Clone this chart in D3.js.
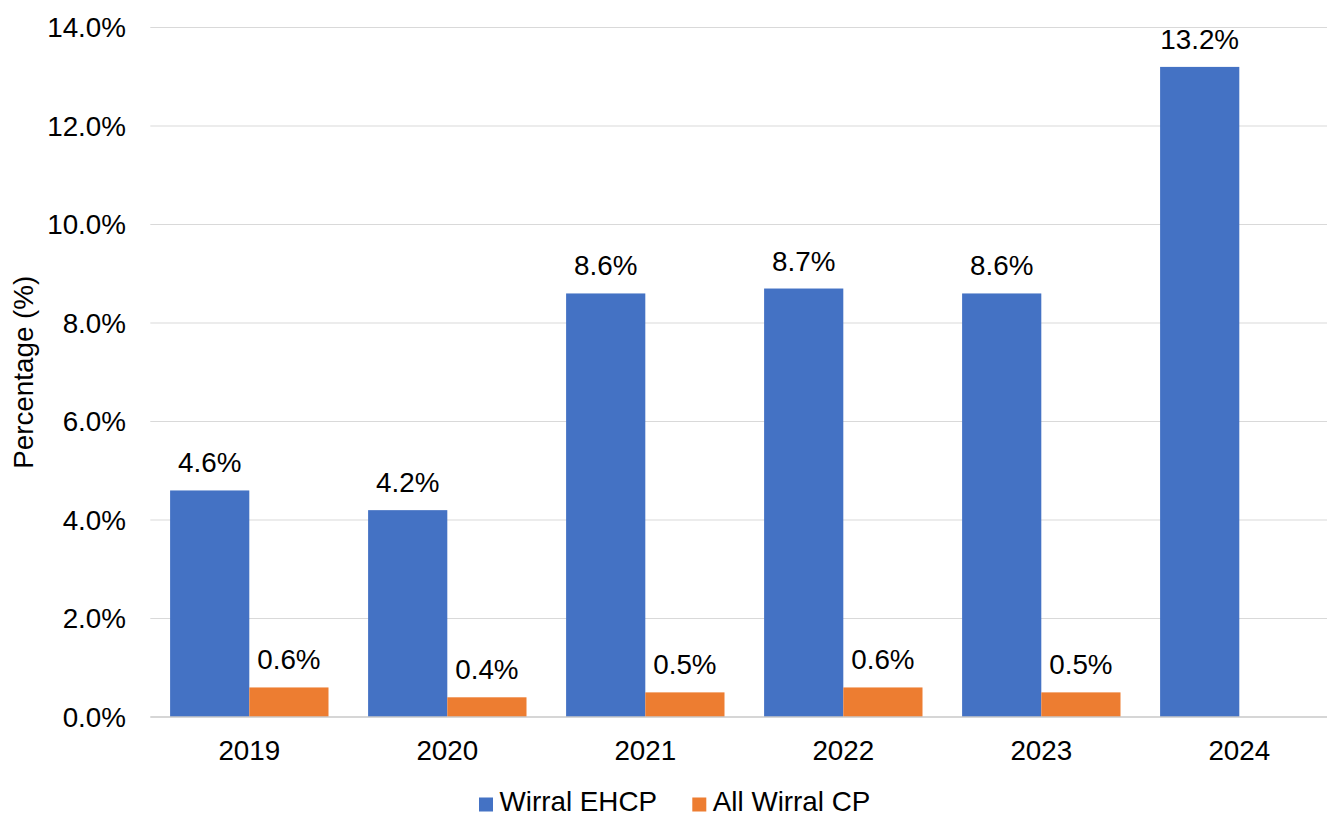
<!DOCTYPE html>
<html>
<head>
<meta charset="utf-8">
<script src="https://cdn.jsdelivr.net/npm/d3@7"></script>
<style>
  html, body { margin: 0; padding: 0; background: #fff; }
  svg { display: block; font-family: "Liberation Sans", Arial, sans-serif; }
</style>
</head>
<body>
<svg id="chart" width="1327" height="816"></svg>
<script>
const categories = ["2019", "2020", "2021", "2022", "2023", "2024"];
const seriesNames = ["Wirral EHCP", "All Wirral CP"];
const ehcpValues = [4.6, 4.2, 8.6, 8.7, 8.6, 13.2];
const cpValues = [0.6, 0.4, 0.5, 0.6, 0.5, null];
const yTicks = [0, 2, 4, 6, 8, 10, 12, 14];
const colors = ["#4472C4", "#ED7D31"];

(function () {
const svg = d3.select("#chart");
const fontSize = 27.8;
const plotLeft = 150.3, plotRight = 1338.3, plotTop = 27.5, plotBottom = 717;

const x = d3.scaleBand().domain(categories).range([plotLeft, plotRight]).paddingInner(0.2).paddingOuter(0.1);
const xSub = d3.scaleBand().domain(seriesNames).range([0, x.bandwidth()]);
const y = d3.scaleLinear().domain([0, 14]).range([plotBottom, plotTop]);

// gridlines
svg.append("g").selectAll("line").data(yTicks.filter(t => t > 0)).join("line")
  .attr("x1", plotLeft).attr("x2", plotRight)
  .attr("y1", d => y(d)).attr("y2", d => y(d))
  .attr("stroke", "#d9d9d9").attr("stroke-width", 1);

// y tick labels
svg.append("g").selectAll("text").data(yTicks).join("text")
  .attr("x", 126).attr("y", d => y(d) + 9.5)
  .attr("text-anchor", "end").attr("font-size", fontSize).attr("fill", "#000")
  .text(d => d.toFixed(1) + "%");

// y title
svg.append("text")
  .attr("transform", `translate(33,${(plotTop + plotBottom) / 2}) rotate(-90)`)
  .attr("text-anchor", "middle").attr("font-size", fontSize).attr("fill", "#000")
  .text("Percentage (%)");

const rows = categories.map((c, i) => ({ cat: c, vals: [ehcpValues[i], cpValues[i]] }));

const groups = svg.append("g").selectAll("g").data(rows).join("g")
  .attr("transform", d => `translate(${x(d.cat)},0)`);

const items = d => d.vals.map((v, j) => ({ name: seriesNames[j], v, j })).filter(o => o.v != null);

groups.selectAll("rect").data(items).join("rect")
  .attr("x", d => xSub(d.name)).attr("width", xSub.bandwidth())
  .attr("y", d => y(d.v)).attr("height", d => y(0) - y(d.v))
  .attr("fill", d => colors[d.j]);

groups.selectAll("text").data(items).join("text")
  .attr("x", d => xSub(d.name) + xSub.bandwidth() / 2)
  .attr("y", d => y(d.v) - 18)
  .attr("text-anchor", "middle").attr("font-size", fontSize).attr("fill", "#000")
  .text(d => d.v.toFixed(1) + "%");

// baseline
svg.append("line").attr("x1", plotLeft).attr("x2", plotRight)
  .attr("y1", y(0)).attr("y2", y(0))
  .attr("stroke", "#c8c8c8").attr("stroke-width", 1.5);

// x labels
svg.append("g").selectAll("text").data(categories).join("text")
  .attr("x", d => x(d) + x.bandwidth() / 2).attr("y", 760)
  .attr("text-anchor", "middle").attr("font-size", fontSize).attr("fill", "#000")
  .text(d => d);

// legend
const legendX = [479, 692.3];
const lg = svg.append("g").selectAll("g").data(seriesNames).join("g")
  .attr("transform", (d, i) => `translate(${legendX[i]},0)`);
lg.append("rect").attr("x", 0).attr("y", 797.5).attr("width", 14).attr("height", 14)
  .attr("fill", (d, i) => colors[i]);
lg.append("text").attr("x", 20.5).attr("y", 811).attr("font-size", fontSize).attr("fill", "#000")
  .text(d => d);
})();
</script>
</body>
</html>
